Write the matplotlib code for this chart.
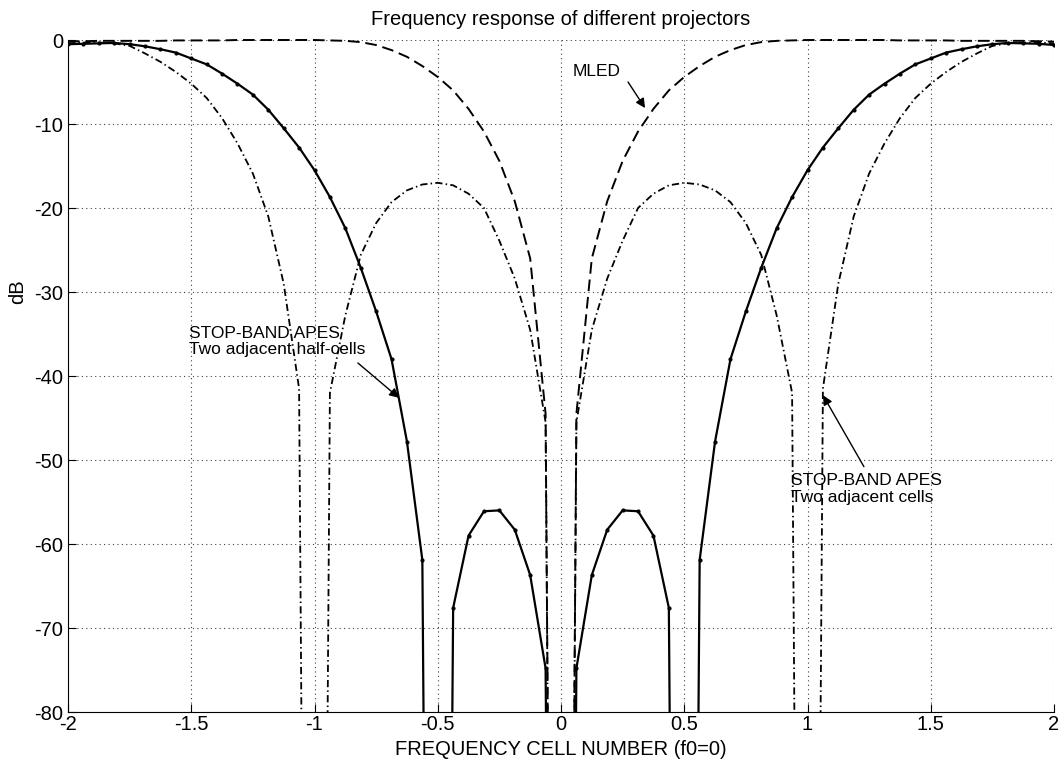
import numpy as np
import matplotlib
matplotlib.use("Agg")
from matplotlib import pyplot as plt
from matplotlib.patches import Rectangle

plt.rcParams['font.family'] = ['Liberation Sans', 'DejaVu Sans']
plt.rcParams['axes.unicode_minus'] = False

# frequency cells, sampled every 1/16 of a cell
freq = np.linspace(-2, 2, 65)

# STOP-BAND APES, two adjacent half-cells (solid with dots)
half_cells = [-0.5, -0.45, -0.4, -0.35, -0.5, -0.75, -1.1, -1.5, -2.2, -2.9, -4.0, -5.2, -6.5,
              -8.3, -10.5, -12.8, -15.5, -18.7, -22.4, -27.1, -32.3, -38.0, -47.8, -61.9,
              -300, -67.6, -59.0, -56.1, -56.0, -58.3, -63.7, -74.8,
              -300,
              -74.8, -63.7, -58.3, -56.0, -56.1, -59.0, -67.6, -300,
              -61.9, -47.8, -38.0, -32.3, -27.1, -22.4, -18.7, -15.5, -12.8, -10.5, -8.3,
              -6.5, -5.2, -4.0, -2.9, -2.2, -1.5, -1.1, -0.75, -0.5, -0.35, -0.4, -0.45, -0.6]

# STOP-BAND APES, two adjacent cells (dash-dot)
adj_cells = [-0.4, -0.3, -0.3, -0.4, -0.7, -1.6, -2.6, -3.8, -5.2, -6.9, -9.3, -12.3, -15.9,
             -21.0, -29.0, -41.5, -300,
             -42.0, -32.8, -25.6, -21.8, -19.3, -17.9, -17.2, -17.0, -17.3, -18.3, -20.0,
             -23.9, -28.4, -34.5, -45.5,
             -300,
             -45.5, -34.5, -28.4, -23.9, -20.0, -18.3, -17.3, -17.0, -17.2, -17.9, -19.3,
             -21.8, -25.6, -32.8, -42.0,
             -300, -41.5, -29.0, -21.0, -15.9, -12.3, -9.3, -6.9, -5.2, -3.8, -2.6, -1.6,
             -0.7, -0.4, -0.3, -0.3, -0.4]

# MLED (dashed)
mled = [-0.2, -0.15, -0.1, -0.1, -0.1, -0.1, -0.1, -0.05, -0.05, -0.05, -0.05, 0, 0, 0, 0, 0, 0,
        -0.05, -0.1, -0.25, -0.6, -1.2, -2.0, -3.1, -4.4, -6.0, -8.2, -10.9, -14.4, -19.2,
        -26.0, -44.5,
        -300,
        -44.5, -26.0, -19.2, -14.4, -10.9, -8.2, -6.0, -4.4, -3.1, -2.0, -1.2, -0.6, -0.25,
        -0.1, -0.05,
        0, 0, 0, 0, 0, 0, -0.05, -0.05, -0.05, -0.05, -0.1, -0.1, -0.1, -0.1, -0.1, -0.15, -0.2]

xticks = np.arange(-2, 2.01, 0.5)
xticklabels = ['-2', '-1.5', '-1', '-0.5', '0', '0.5', '1', '1.5', '2']
yticks = np.arange(-80, 1, 10)

fig = plt.figure(figsize=(10.64, 7.62), dpi=100)
ax = fig.add_axes([68/1064, 1-712/762, 986/1064, 672/762])

clip = Rectangle((0, 0), 1, 1.01, transform=ax.transAxes, visible=False)
ax.add_patch(clip)

l1, = ax.plot(freq, half_cells, color='k', lw=1.6, marker='.', markersize=4)
l2, = ax.plot(freq, adj_cells, color='k', lw=1.3, dashes=(4, 1.8, 0.8, 1.8))
l3, = ax.plot(freq, mled, color='k', lw=1.4, dashes=(6, 3))
for l in (l1, l2, l3):
    l.set_clip_path(clip)

ax.set_xlim(-2, 2)
ax.set_ylim(-80, 0)
ax.set_xticks(xticks)
ax.set_xticklabels(xticklabels)
ax.set_yticks(yticks)
ax.tick_params(direction='in', length=5.8, width=0.8, labelsize=14.5, top=False, right=False)
ax.tick_params(axis='x', pad=2.5)
ax.tick_params(axis='y', pad=3.5)
ax.grid(True, color='0.25', linestyle=(0, (1, 3)), linewidth=0.8)
ax.spines['top'].set_visible(False)
ax.spines['right'].set_visible(False)

ax.set_title('Frequency response of different projectors', fontsize=14.5, pad=11)
ax.set_xlabel('FREQUENCY CELL NUMBER (f0=0)', fontsize=14.5, labelpad=4)
ax.set_ylabel('dB', fontsize=14.5)
ax.yaxis.set_label_coords(-0.041, 0.625)

arr = dict(arrowstyle='-|>', color='k', lw=1.0, mutation_scale=14, shrinkA=0, shrinkB=0)
ax.text(0.144, -3.8, 'MLED', fontsize=12.5, ha='center', va='center')
ax.annotate('', xy=(0.341, -8.1), xytext=(0.272, -5.0), arrowprops=arr)

ax.text(-1.509, -35.9, 'STOP-BAND APES\nTwo adjacent half-cells', fontsize=12.5,
        ha='left', va='center', linespacing=1.1)
ax.annotate('', xy=(-0.657, -42.6), xytext=(-0.824, -38.45), arrowprops=arr)

ax.text(0.933, -53.45, 'STOP-BAND APES\nTwo adjacent cells', fontsize=12.5,
        ha='left', va='center', linespacing=1.1)
ax.annotate('', xy=(1.063, -42.3), xytext=(1.229, -50.8), arrowprops=arr)

fig.savefig('out.png', dpi=100)
